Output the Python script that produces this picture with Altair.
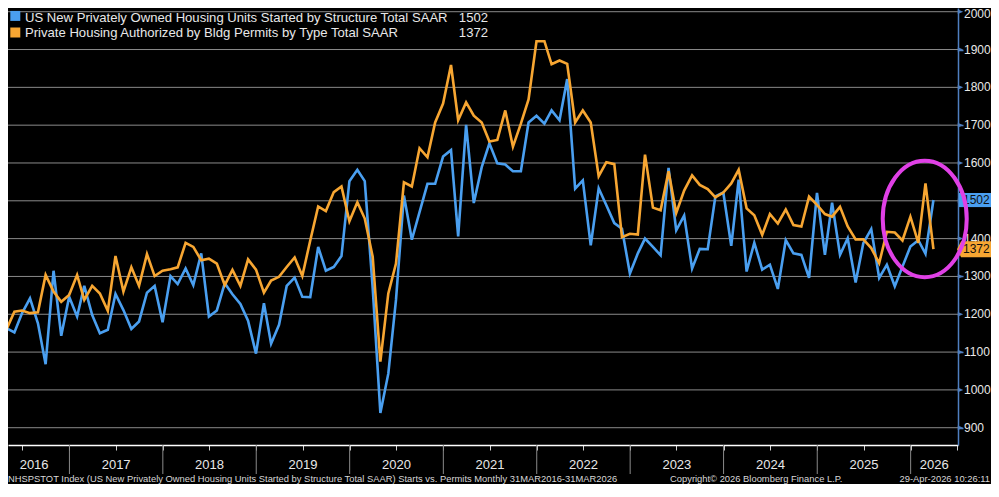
import altair as alt
import pandas as pd

# ---------------- data ----------------
series_names = [
    "US New Privately Owned Housing Units Started by Structure Total SAAR",
    "Private Housing Authorized by Bldg Permits by Type Total SAAR",
]
series_colors = ["#4a9ff0", "#f7a632"]

# monthly, Mar 2016 .. Mar 2026 (121 values each)
starts = [
    1115, 1163, 1152, 1203, 1242, 1176, 1068, 1315, 1143, 1246,
    1194, 1275, 1198, 1150, 1159, 1254, 1211, 1161, 1181, 1257,
    1275, 1179, 1301, 1280, 1321, 1277, 1361, 1194, 1210, 1282,
    1253, 1227, 1183, 1096, 1229, 1122, 1172, 1275, 1297, 1246,
    1245, 1378, 1315, 1325, 1354, 1552, 1582, 1552, 1269, 939,
    1043, 1238, 1514, 1397, 1470, 1545, 1545, 1617, 1634, 1406,
    1701, 1494, 1589, 1652, 1599, 1596, 1578, 1578, 1707, 1725,
    1704, 1739, 1713, 1822, 1532, 1554, 1382, 1533, 1488, 1441,
    1426, 1308, 1361, 1400, 1378, 1356, 1587, 1422, 1461, 1321,
    1373, 1372, 1512, 1522, 1381, 1556, 1313, 1389, 1318, 1331,
    1267, 1396, 1361, 1357, 1296, 1521, 1357, 1495, 1357, 1401,
    1284, 1388, 1425, 1296, 1331, 1274, 1326, 1379, 1396, 1360,
    1502,
]
permits = [
    1119, 1160, 1207, 1210, 1203, 1205, 1304, 1260, 1233, 1251,
    1304, 1238, 1275, 1255, 1209, 1354, 1260, 1324, 1275, 1359,
    1301, 1315, 1319, 1324, 1389, 1378, 1343, 1347, 1334, 1277,
    1317, 1275, 1345, 1318, 1257, 1289, 1299, 1325, 1350, 1301,
    1395, 1485, 1473, 1523, 1538, 1446, 1496, 1453, 1352, 1075,
    1255, 1334, 1549, 1538, 1639, 1615, 1707, 1757, 1859, 1713,
    1760, 1725, 1707, 1657, 1661, 1739, 1643, 1704, 1768, 1922,
    1922, 1861, 1871, 1862, 1707, 1739, 1707, 1565, 1602, 1597,
    1404, 1413, 1411, 1622, 1482, 1475, 1578, 1468, 1527, 1567,
    1542, 1531, 1509, 1522, 1546, 1582, 1480, 1462, 1410, 1465,
    1440, 1477, 1436, 1432, 1511, 1489, 1465, 1458, 1484, 1432,
    1398, 1398, 1375, 1335, 1418, 1416, 1395, 1458, 1389, 1546,
    1372,
]

y_major = list(range(900, 2001, 100))
y_all_ticks = list(range(900, 2001, 50))
year_labels = [str(y) for y in range(2016, 2027)]
footer_left = ("NHSPSTOT Index (US New Privately Owned Housing Units Started by Structure "
               "Total SAAR) Starts vs. Permits Monthly 31MAR2016-31MAR2026")
footer_mid = "Copyright\u00a9 2026 Bloomberg Finance L.P."
footer_right = "29-Apr-2026 10:26:11"

# ---------------- layout / style ----------------
W, H = 950, 437
PAD_R, PAD_B = 33, 39          # svg = 983 x 476 -> fits the page without scrolling
FONT = "Liberation Sans"
AXIS_BLUE = "#4f7fc0"
GRID = "#8a8a8a"
TEXT = "#e8e8e8"
MAGENTA = "#e040e6"

dates = pd.date_range("2016-04-01", periods=len(starts), freq="MS") - pd.Timedelta(days=1)
df_s = pd.DataFrame({"date": dates, "value": starts, "series": series_names[0]})
df_p = pd.DataFrame({"date": dates, "value": permits, "series": series_names[1]})

x_scale = alt.Scale(domain=[alt.DateTime(year=2016, month=5, date=6),
                            alt.DateTime(year=2026, month=7, date=5)], nice=False)
y_scale = alt.Scale(domain=[854.3, 2009.8], nice=False, zero=False)
color_scale = alt.Scale(domain=series_names, range=series_colors)

quarter_dates = [alt.DateTime(year=y, month=m, date=1)
                 for y in range(2016, 2027) for m in (1, 4, 7, 10)
                 if (2016, 7) <= (y, m) <= (2026, 7)]

x_enc = alt.X("date:T", scale=x_scale,
              axis=alt.Axis(values=quarter_dates, labels=False, tickSize=5,
                            tickColor="#d0d0d0", domainColor="#ffffff", domainWidth=1.5,
                            grid=False, title=None, zindex=0))
y_enc = alt.Y("value:Q", scale=y_scale,
              axis=alt.Axis(orient="right", values=y_all_ticks, labels=False,
                            tickSize=5, tickColor=AXIS_BLUE, tickWidth=1.5,
                            domainColor=AXIS_BLUE, domainWidth=1.5,
                            grid=False, title=None, zindex=0))

grid = alt.Chart(pd.DataFrame({"v": y_major})).mark_rule(
    color=GRID, strokeWidth=1).encode(y=alt.Y("v:Q", scale=y_scale))

line_s = alt.Chart(df_s).mark_line(strokeWidth=2.6, clip=True).encode(
    x=x_enc, y=y_enc,
    color=alt.Color("series:N", scale=color_scale, legend=None))
line_p = alt.Chart(df_p).mark_line(strokeWidth=2.6, clip=True).encode(
    x="date:T", y="value:Q",
    color=alt.Color("series:N", scale=color_scale, legend=None))

# major tick arrows and labels on the right axis
ydf = pd.DataFrame({"v": y_major, "t": [str(v) for v in y_major]})
arrows = alt.Chart(ydf).mark_point(
    shape="M -1 -0.85 L 1 0 L -1 0.85 Z", filled=True, size=30, color=AXIS_BLUE,
    opacity=1).encode(x=alt.value(W + 2.5), y="v:Q")
ylabels = alt.Chart(ydf[ydf["v"] < max(y_major)]).mark_text(
    font=FONT, fontSize=12, color=TEXT, align="left", baseline="middle").encode(
    x=alt.value(W + 6), y="v:Q", text="t:N")
ylabel_top = alt.Chart(ydf[ydf["v"] == max(y_major)]).mark_text(
    font=FONT, fontSize=12, color=TEXT, align="left", baseline="middle", dy=2.5).encode(
    x=alt.value(W + 6), y="v:Q", text="t:N")

# year separators and labels
year_starts = pd.to_datetime([f"{y}-01-01" for y in range(2017, 2027)])
sep = alt.Chart(pd.DataFrame({"date": year_starts})).mark_rule(
    color=GRID, strokeWidth=1).encode(x="date:T", y=alt.value(H), y2=alt.value(H + 29))

seg_start = [dates[0]] + list(year_starts)
seg_end = list(year_starts) + [pd.Timestamp("2026-07-05")]
label_dates = [a + (b - a) / 2 for a, b in zip(seg_start, seg_end)]
ylab = alt.Chart(pd.DataFrame({"date": label_dates, "t": year_labels})).mark_text(
    font=FONT, fontSize=13, color=TEXT, align="center", baseline="alphabetic").encode(
    x="date:T", y=alt.value(H + 24), text="t:N")

# last value tags on right axis
last_s, last_p = starts[-1], permits[-1]
tag_s = alt.Chart(pd.DataFrame({"v": [last_s]})).mark_point(
    shape="M -1 -0.44 L 1 -0.44 L 1 0.44 L -1 0.44 Z", filled=True, size=1024,
    color=series_colors[0], opacity=1).encode(x=alt.value(W + 17), y="v:Q")
tag_p = alt.Chart(pd.DataFrame({"v": [last_p]})).mark_point(
    shape="M -1 0 L -0.76 -0.47 L 1 -0.47 L 1 0.47 L -0.76 0.47 Z", filled=True, size=1156,
    color=series_colors[1], opacity=1).encode(x=alt.value(W + 16), y="v:Q")
tag_txt = alt.Chart(pd.DataFrame({"v": [last_s, last_p], "t": [str(last_s), str(last_p)]})).mark_text(
    font=FONT, fontSize=12, color="#101010", align="left", baseline="middle").encode(
    x=alt.value(W + 5), y="v:Q", text="t:N")

# highlight ellipse
ellipse_path = ("M 1 0 C 1 0.7655 0.5523 1.386 0 1.386 C -0.5523 1.386 -1 0.7655 -1 0 "
                "C -1 -0.7655 -0.5523 -1.386 0 -1.386 C 0.5523 -1.386 1 -0.7655 1 0 Z")
ellipse = alt.Chart(pd.DataFrame({"date": [pd.Timestamp("2026-02-25")], "v": [1452]})).mark_point(
    shape=ellipse_path, filled=False, size=7056, strokeWidth=4, color=MAGENTA, opacity=1).encode(
    x="date:T", y="v:Q")

# legend
legend_layers = []
for i, (name, col, val) in enumerate(zip(series_names, series_colors, [last_s, last_p])):
    ldf = pd.DataFrame({"name": [name], "val": [str(val)]})
    base = alt.Chart(ldf)
    legend_layers.append(base.mark_point(shape="square", filled=True, size=100, color=col, opacity=1)
                         .encode(x=alt.value(7.3), y=alt.value(7.9 + 16.6 * i)))
    legend_layers.append(base.mark_text(font=FONT, fontSize=13.1, color=TEXT, align="left",
                                        baseline="alphabetic")
                         .encode(x=alt.value(17), y=alt.value(13.7 + 15.6 * i), text="name:N"))
    legend_layers.append(base.mark_text(font=FONT, fontSize=13.1, color=TEXT, align="right",
                                        baseline="alphabetic")
                         .encode(x=alt.value(480), y=alt.value(13.7 + 15.6 * i), text="val:N"))

# footer
def foot(text, x, align):
    return alt.Chart(pd.DataFrame({"t": [text]})).mark_text(
        font=FONT, fontSize=9.4, color="#d8d8d8", align=align, baseline="alphabetic").encode(
        x=alt.value(x), y=alt.value(H + 37), text="t:N")

footers = [foot(footer_left, 0, "left"), foot(footer_mid, 662, "left"),
           foot(footer_right, W + PAD_R - 1, "right")]

chart = alt.layer(
    grid, line_s, line_p, arrows, ylabels, ylabel_top, sep, ylab, tag_s, tag_p, tag_txt, ellipse,
    *legend_layers, *footers
).properties(
    width=W, height=H,
    padding={"left": 0, "top": 0, "right": PAD_R, "bottom": PAD_B},
    autosize=alt.AutoSizeParams(type="none"),
).configure(background="#000000").configure_view(stroke=None)

chart.save("out.html", embed_options={"renderer": "svg", "actions": False})
